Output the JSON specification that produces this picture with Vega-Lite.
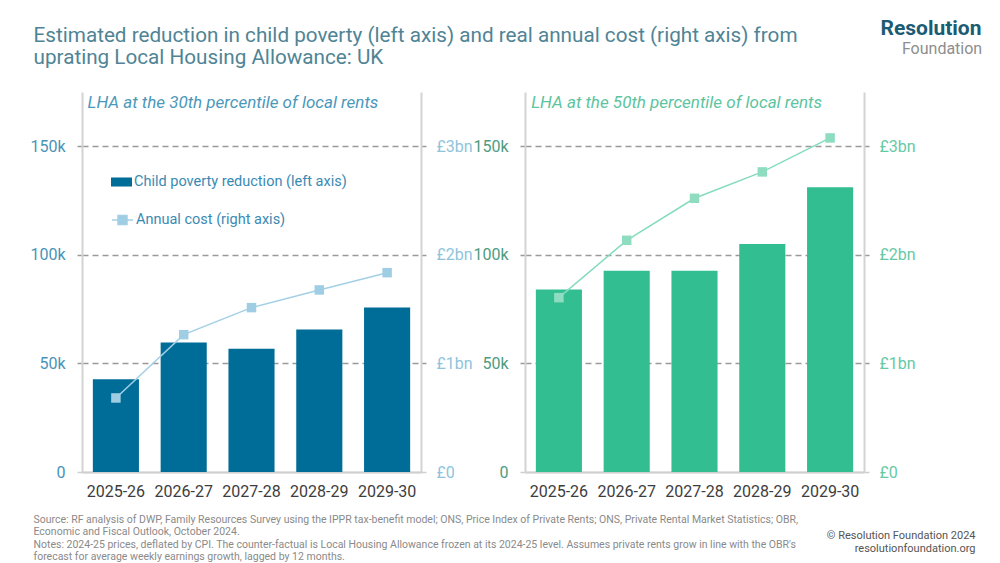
{
  "$schema": "https://vega.github.io/schema/vega-lite/v6.json",
  "background": "white",
  "padding": {"left": 29, "top": 17, "right": 5, "bottom": 0},
  "config": {
    "view": {"stroke": null},
    "font": "Roboto",
    "axis": {"labelFont": "Roboto", "titleFont": "Roboto"},
    "legend": {"labelFont": "Roboto"}
  },
  "datasets": {
    "main": [
      {"panel": "30th", "year": "2025-26", "children": 42700, "cost": 0.682},
      {"panel": "30th", "year": "2026-27", "children": 59600, "cost": 1.265},
      {"panel": "30th", "year": "2027-28", "children": 56800, "cost": 1.514},
      {"panel": "30th", "year": "2028-29", "children": 65600, "cost": 1.677},
      {"panel": "30th", "year": "2029-30", "children": 75800, "cost": 1.836},
      {"panel": "50th", "year": "2025-26", "children": 84000, "cost": 1.606},
      {"panel": "50th", "year": "2026-27", "children": 92700, "cost": 2.134},
      {"panel": "50th", "year": "2027-28", "children": 92700, "cost": 2.521},
      {"panel": "50th", "year": "2028-29", "children": 105000, "cost": 2.764},
      {"panel": "50th", "year": "2029-30", "children": 131100, "cost": 3.077}
    ]
  },
  "data": {"name": "main"},
  "spacing": 104,
  "bounds": "flush",
  "hconcat": [
    {
      "width": 339,
      "height": 380,
      "transform": [{"filter": "datum.panel == '30th'"}],
      "resolve": {"scale": {"y": "independent"}, "axis": {"x": "independent", "y": "independent"}},
      "layer": [
        {
          "mark": {"type": "bar"},
          "encoding": {
            "x": {
              "field": "year", "type": "ordinal",
              "scale": {"paddingInner": 0.32, "paddingOuter": 0.16},
              "axis": {
                "labelAngle": 0, "labelFontSize": 16, "labelColor": "#3d3d3d", "labelPadding": 11,
                "ticks": false, "domainColor": "#cfcfcf", "domainWidth": 2,
                "title": [
                  "Source: RF analysis of DWP, Family Resources Survey using the IPPR tax-benefit model; ONS, Price Index of Private Rents; ONS, Private Rental Market Statistics; OBR,",
                  "Economic and Fiscal Outlook, October 2024.",
                  "Notes: 2024-25 prices, deflated by CPI. The counter-factual is Local Housing Allowance frozen at its 2024-25 level. Assumes private rents grow in line with the OBR's",
                  "forecast for average weekly earnings growth, lagged by 12 months."
                ],
                "titleX": -49, "titleY": 50.5, "titleAlign": "left", "titleBaseline": "alphabetic",
                "titleFont": "Roboto", "titleFontSize": 10.5, "titleFontWeight": "normal",
                "titleColor": "#8a8a8a", "titleLineHeight": 12.3
              }
            },
            "y": {
              "field": "children", "type": "quantitative",
              "scale": {"domain": [0, 175000], "nice": false},
              "axis": {
                "values": [0, 50000, 100000, 150000],
                "labelExpr": "datum.value == 0 ? '0' : (datum.value / 1000) + 'k'",
                "labelFontSize": 16, "labelColor": "#4a93b8", "labelPadding": 12,
                "tickSize": 5, "tickWidth": 1.5,
                "tickColor": {"condition": {"test": "datum.value == 0", "value": "#cfcfcf"}, "value": "#9a9a9a"},
                "grid": true, "gridWidth": 1.5,
                "gridColor": {"condition": {"test": "datum.value == 0", "value": "#cfcfcf"}, "value": "#9a9a9a"},
                "gridDash": {"condition": {"test": "datum.value == 0", "value": []}, "value": [6, 4]},
                "domainColor": "#d3d3d3", "domainWidth": 2,
                "title": [
                  "Estimated reduction in child poverty (left axis) and real annual cost (right axis) from",
                  "uprating Local Housing Allowance: UK"
                ],
                "titleAngle": 0, "titleX": -49, "titleY": -51, "titleAlign": "left", "titleBaseline": "alphabetic",
                "titleFontSize": 20.7, "titleFontWeight": "normal", "titleColor": "#4f8495", "titleLineHeight": 22.5
              }
            },
            "fill": {
              "datum": "Child poverty reduction (left axis)",
              "scale": {"range": ["#006d99"]},
              "legend": {
                "orient": "none", "legendX": 29, "legendY": 79.5, "title": null, "padding": 0,
                "symbolType": "M-1,-0.43H1V0.43H-1Z", "symbolSize": 441, "symbolStrokeWidth": 0,
                "labelFontSize": 14.5, "labelColor": "#3a8ab3", "labelOffset": 2, "labelLimit": 400
              }
            }
          }
        },
        {
          "mark": {"type": "line", "strokeWidth": 1.5},
          "encoding": {
            "x": {
              "field": "year", "type": "ordinal",
              "axis": {
                "orient": "top", "labels": false, "ticks": false, "domain": false, "grid": false,
                "title": "LHA at the 30th percentile of local rents",
                "titleX": 5, "titleY": 15, "titleAlign": "left", "titleBaseline": "alphabetic",
                "titleFontSize": 17, "titleFontStyle": "italic", "titleFontWeight": "normal", "titleColor": "#4a98bb"
              }
            },
            "y": {
              "field": "cost", "type": "quantitative",
              "scale": {"domain": [0, 3.5], "nice": false},
              "axis": {
                "orient": "right", "values": [0, 1, 2, 3],
                "labelExpr": "datum.value == 0 ? '£0' : '£' + datum.value + 'bn'",
                "labelFontSize": 16, "labelColor": "#8ec4dc", "labelPadding": 10,
                "tickSize": 5, "tickWidth": 1.5,
                "tickColor": {"condition": {"test": "datum.value == 0", "value": "#cfcfcf"}, "value": "#9a9a9a"},
                "grid": false, "domainColor": "#d3d3d3", "domainWidth": 2, "title": null
              }
            },
            "stroke": {
              "datum": "Annual cost (right axis)",
              "scale": {"range": ["#a3d0e6"]},
              "legend": {
                "orient": "none", "legendX": 29, "legendY": 116.5, "title": null, "padding": 0,
                "symbolType": "M-1,0H1M-0.43,-0.43H0.43V0.43H-0.43Z", "symbolSize": 441, "symbolStrokeWidth": 1.5,
                "symbolFillColor": "#9fcde3",
                "labelFontSize": 14.5, "labelColor": "#3a8ab3", "labelOffset": 2, "labelLimit": 400,
                "encode": {"symbols": {"update": {"fill": {"value": "#9fcde3"}}}}
              }
            }
          }
        },
        {
          "mark": {"type": "point", "shape": "square", "filled": true, "size": 90, "opacity": 1, "color": "#9fcde3"},
          "encoding": {
            "x": {"field": "year", "type": "ordinal", "axis": null},
            "y": {"field": "cost", "type": "quantitative", "scale": {"domain": [0, 3.5], "nice": false}, "axis": null}
          }
        }
      ]
    },
    {
      "width": 339,
      "height": 380,
      "transform": [{"filter": "datum.panel == '50th'"}],
      "resolve": {"scale": {"y": "independent"}, "axis": {"x": "independent", "y": "independent"}},
      "layer": [
        {
          "mark": {"type": "bar", "color": "#33be92"},
          "encoding": {
            "x": {
              "field": "year", "type": "ordinal",
              "scale": {"paddingInner": 0.32, "paddingOuter": 0.16},
              "axis": {
                "labelAngle": 0, "labelFontSize": 16, "labelColor": "#3d3d3d", "labelPadding": 11,
                "ticks": false, "domainColor": "#cfcfcf", "domainWidth": 2,
                "title": ["© Resolution Foundation 2024", "resolutionfoundation.org"],
                "titleX": 450, "titleY": 66.5, "titleAlign": "right", "titleBaseline": "alphabetic",
                "titleFont": "Roboto", "titleFontSize": 11, "titleFontWeight": "normal",
                "titleColor": "#555555", "titleLineHeight": 12.5
              }
            },
            "y": {
              "field": "children", "type": "quantitative",
              "scale": {"domain": [0, 175000], "nice": false},
              "axis": {
                "values": [0, 50000, 100000, 150000],
                "labelExpr": "datum.value == 0 ? '0' : (datum.value / 1000) + 'k'",
                "labelFontSize": 16, "labelColor": "#4e9c80", "labelPadding": 12,
                "tickSize": 5, "tickWidth": 1.5,
                "tickColor": {"condition": {"test": "datum.value == 0", "value": "#cfcfcf"}, "value": "#9a9a9a"},
                "grid": true, "gridWidth": 1.5,
                "gridColor": {"condition": {"test": "datum.value == 0", "value": "#cfcfcf"}, "value": "#9a9a9a"},
                "gridDash": {"condition": {"test": "datum.value == 0", "value": []}, "value": [6, 4]},
                "domainColor": "#d3d3d3", "domainWidth": 2,
                "title": "Resolution",
                "titleAngle": 0, "titleX": 456, "titleY": -57.5, "titleAlign": "right", "titleBaseline": "alphabetic",
                "titleFontSize": 21, "titleFontWeight": "bold", "titleColor": "#1c5c72"
              }
            }
          }
        },
        {
          "mark": {"type": "line", "strokeWidth": 1.5, "color": "#85dcbc"},
          "encoding": {
            "x": {
              "field": "year", "type": "ordinal",
              "axis": {
                "orient": "top", "labels": false, "ticks": false, "domain": false, "grid": false,
                "title": "LHA at the 50th percentile of local rents",
                "titleX": 5.7, "titleY": 15, "titleAlign": "left", "titleBaseline": "alphabetic",
                "titleFontSize": 17, "titleFontStyle": "italic", "titleFontWeight": "normal", "titleColor": "#5cc4a0"
              }
            },
            "y": {
              "field": "cost", "type": "quantitative",
              "scale": {"domain": [0, 3.5], "nice": false},
              "axis": {
                "orient": "right", "values": [0, 1, 2, 3],
                "labelExpr": "datum.value == 0 ? '£0' : '£' + datum.value + 'bn'",
                "labelFontSize": 16, "labelColor": "#66c9a6", "labelPadding": 10,
                "tickSize": 5, "tickWidth": 1.5,
                "tickColor": {"condition": {"test": "datum.value == 0", "value": "#cfcfcf"}, "value": "#9a9a9a"},
                "grid": false, "domainColor": "#d3d3d3", "domainWidth": 2,
                "title": "Foundation",
                "titleAngle": 0, "titleX": 117.7, "titleY": -39, "titleAlign": "right", "titleBaseline": "alphabetic",
                "titleFontSize": 16, "titleFontWeight": "normal", "titleColor": "#8e8e8e"
              }
            }
          }
        },
        {
          "mark": {"type": "point", "shape": "square", "filled": true, "size": 90, "opacity": 1, "color": "#8fddc0"},
          "encoding": {
            "x": {"field": "year", "type": "ordinal", "axis": null},
            "y": {"field": "cost", "type": "quantitative", "scale": {"domain": [0, 3.5], "nice": false}, "axis": null}
          }
        }
      ]
    }
  ]
}
